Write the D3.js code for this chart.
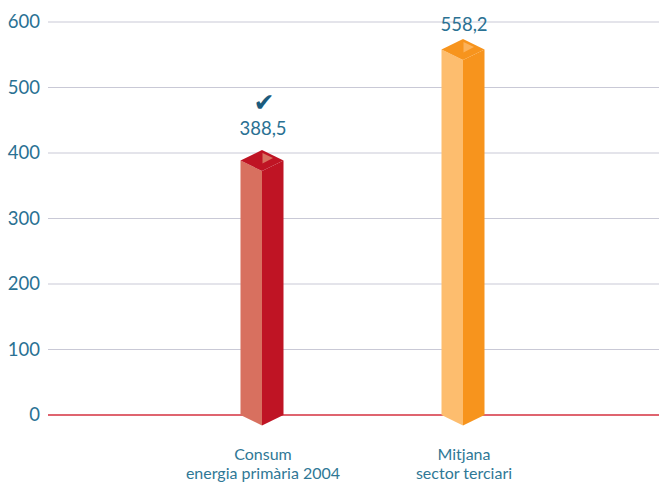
<!DOCTYPE html>
<html>
<head>
  <meta charset="utf-8">
  <script src="https://cdn.jsdelivr.net/npm/d3@7/dist/d3.min.js"></script>
  <style>
    body { margin: 0; background: #fff; font-family: Lato, "Liberation Sans", Arial, sans-serif; }
  </style>
</head>
<body>
  <div id="chart"></div>
  <script>
    const categories = [["Consum", "energia primària 2004"], ["Mitjana", "sector terciari"]];
    const values = [388.5, 558.2];
    const valueLabels = ["388,5", "558,2"];
    const ticks = [0, 100, 200, 300, 400, 500, 600];
    const sideColors = ["#d8705f", "#fdbd6e"];
    const frontColors = ["#bf1424", "#f7941d"];
    const markColors = ["#d8705f", "#fcb25a"];

    const width = 659, height = 482;
    const plotLeft = 48, plotRight = 659, plotTop = 22, plotBottom = 415;

    const svg = d3.select("#chart").append("svg")
      .attr("width", width).attr("height", height);

    const y = d3.scaleLinear().domain([0, 600]).range([plotBottom, plotTop]);
    const x = d3.scalePoint().domain(d3.range(categories.length)).range([262, 463]);

    // grid
    svg.selectAll("line.grid")
      .data(ticks.filter(t => t > 0))
      .join("line")
      .attr("x1", plotLeft).attr("x2", plotRight)
      .attr("y1", d => y(d)).attr("y2", d => y(d))
      .attr("stroke", "#c9c9d6").attr("stroke-width", 1);

    svg.append("line")
      .attr("x1", plotLeft).attr("x2", plotRight)
      .attr("y1", y(0)).attr("y2", y(0))
      .attr("stroke", "#d4313f").attr("stroke-width", 1.5);

    svg.selectAll("text.tick")
      .data(ticks)
      .join("text")
      .attr("x", 40).attr("y", d => y(d))
      .attr("dy", "0.35em")
      .attr("text-anchor", "end")
      .attr("fill", "#2a7193")
      .attr("font-size", 18.5)
      .text(d => d);

    // 3d prisms
    const w = 21.5, dz = 10.5;
    const g = svg.selectAll("g.bar")
      .data(values)
      .join("g");

    const pts = a => a.map(p => p.join(",")).join(" ");

    g.append("polygon")
      .attr("fill", (d, i) => sideColors[i])
      .attr("points", (d, i) => {
        const cx = x(i), yt = y(d), yb = y(0);
        return pts([[cx - w, yt], [cx, yt + dz], [cx, yb + dz], [cx - w, yb]]);
      });
    g.append("polygon")
      .attr("fill", (d, i) => frontColors[i])
      .attr("points", (d, i) => {
        const cx = x(i), yt = y(d), yb = y(0);
        return pts([[cx, yt + dz], [cx + w, yt], [cx + w, yb], [cx, yb + dz]]);
      });
    g.append("polygon")
      .attr("fill", (d, i) => frontColors[i])
      .attr("points", (d, i) => {
        const cx = x(i), yt = y(d);
        return pts([[cx - w, yt], [cx, yt - dz], [cx + w, yt], [cx, yt + dz]]);
      });
    g.append("polygon")
      .attr("fill", (d, i) => markColors[i])
      .attr("points", (d, i) => {
        const cx = x(i), yt = y(d);
        return pts([[cx + 0.5, yt - 7.5], [cx + 11, yt - 2.5], [cx + 0.5, yt + 3]]);
      });

    // value labels (the tall bar's label sits closer, against the top gridline)
    svg.selectAll("text.val")
      .data(values)
      .join("text")
      .attr("x", (d, i) => x(i) + 1)
      .attr("y", (d, i) => y(d) - (i === 0 ? 26 : 18))
      .attr("text-anchor", "middle")
      .attr("fill", "#2a7193")
      .attr("font-size", 18.5)
      .text((d, i) => valueLabels[i]);

    svg.append("text")
      .attr("x", x(0) + 2)
      .attr("y", y(values[0]) - 50)
      .attr("text-anchor", "middle")
      .attr("fill", "#1b5b7d")
      .attr("font-size", 25)
      .attr("font-family", "DejaVu Sans")
      .text("✔");

    // category labels
    const cat = svg.selectAll("text.cat")
      .data(categories)
      .join("text")
      .attr("text-anchor", "middle")
      .attr("fill", "#2f7896")
      .attr("font-size", 16);
    cat.selectAll("tspan")
      .data((d, i) => d.map(s => ({ s, i })))
      .join("tspan")
      .attr("x", d => x(d.i) + 1)
      .attr("y", (d, j) => 460 + j * 19)
      .text(d => d.s);
  </script>
</body>
</html>
